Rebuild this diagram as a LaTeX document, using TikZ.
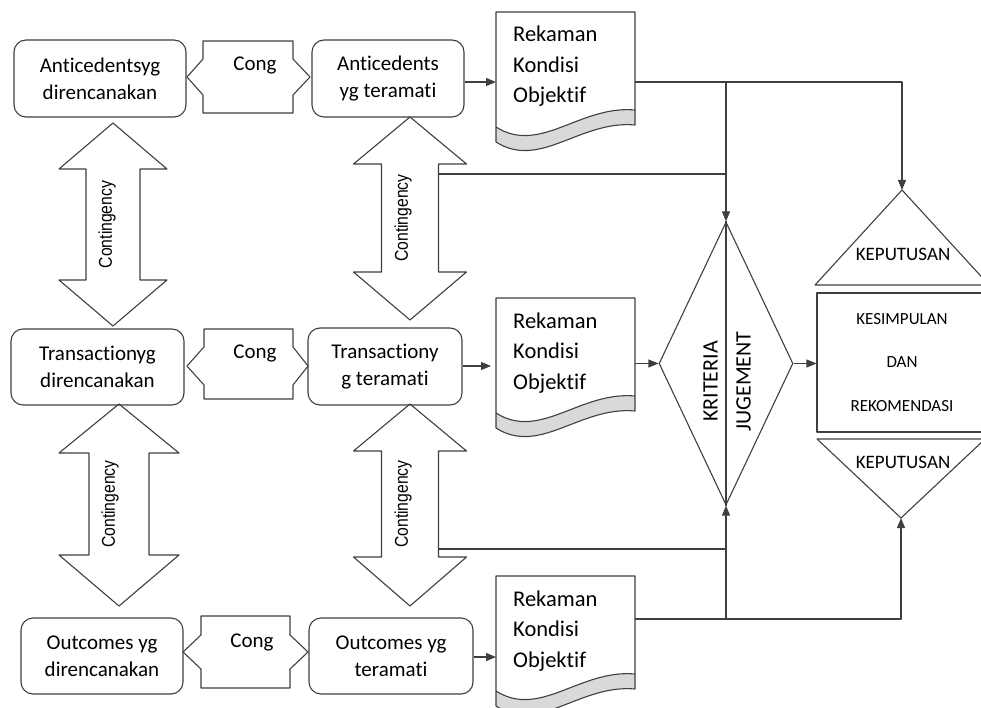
\documentclass[tikz,border=0pt]{standalone}
\usepackage{fontspec}
\setmainfont[Ligatures=NoCommon]{Carlito}
\newfontfamily\contfont[FakeStretch=0.85]{Liberation Sans}
\usetikzlibrary{arrows.meta,shapes.geometric}
\definecolor{linegray}{HTML}{3F3F3F}
\definecolor{bandgray}{HTML}{D9D9D9}
\tikzset{
  line/.style={draw=linegray, line width=1.1pt},
  plan/.style={line, rounded corners=12pt, align=center, inner sep=0pt, font=\fontsize{21}{27}\selectfont},
  cong/.style={font=\fontsize{21}{25}\selectfont},
  cont/.style={rotate=90, inner sep=0pt, font=\contfont\fontsize{18.5}{20}\selectfont},
  record/.style={align=left, inner sep=0pt, font=\fontsize{22.5}{30.5}\selectfont},
  judgetext/.style={rotate=90, inner sep=0pt, font=\fontsize{22}{24}\selectfont},
  decide/.style={inner sep=0pt, font=\fontsize{19}{22}\selectfont}
}
\begin{document}
\begin{tikzpicture}[x=1pt, y=-1pt, line join=round, >={Triangle[length=10pt,width=8pt]}]
\useasboundingbox (0,0) rectangle (981,708);
\clip (0,0) rectangle (981,708);
% rencana dan pengamatan
\node[plan, minimum width=172pt, minimum height=77pt] (antplan) at (100,78.5) {Anticedentsyg\\direncanakan};
\node[plan, minimum width=152pt, minimum height=77pt] (antobs) at (388,78.5) {Anticedents\\yg teramati};
\node[plan, minimum width=173pt, minimum height=76pt] (traplan) at (97.5,367) {Transactionyg\\direncanakan};
\node[plan, minimum width=154pt, minimum height=77pt] (traobs) at (385,366.5) {Transactiony\\g teramati};
\node[plan, minimum width=162pt, minimum height=76pt] (outplan) at (102,656) {Outcomes yg\\direncanakan};
\node[plan, minimum width=164pt, minimum height=76pt] (outobs) at (391,656) {Outcomes yg\\teramati};
% congruence
\foreach \l/\r/\t/\b/\c/\tl/\tr/\h/\n/\tx/\ty in {203/293/41/113/77/187/310/18/1/255/71, 204/293/329/399/366/187/308/19/2/255/358, 201/290/616/688/652/183/308/17/3/252/647}
{
  \draw[line] (\l,\t) -- (\r,\t) -- (\r,\c-\h) -- (\tr,\c) -- (\r,\c+\h) -- (\r,\b) -- (\l,\b) -- (\l,\c+\h) -- (\tl,\c) -- (\l,\c-\h) -- cycle;
  \node[cong, anchor=base] (cong\n) at (\tx,\ty) {Cong};
}
% contingency
\foreach \cx/\ta/\ba/\bb/\tb/\hw/\sw/\tx/\n in {113/123/169/280/326/54/27/107/1, 410/117/164/272/320/56.5/28.5/403/2, 119/404/453/555/606/60/30/110/3, 410/404/451/557/606/56.5/28.5/403/4}
{
  \draw[line] (\cx,\ta) -- (\cx+\hw,\ba) -- (\cx+\sw,\ba) -- (\cx+\sw,\bb) -- (\cx+\hw,\bb) -- (\cx,\tb) -- (\cx-\hw,\bb) -- (\cx-\sw,\bb) -- (\cx-\sw,\ba) -- (\cx-\hw,\ba) -- cycle;
  \node[cont] (cont\n) at (\tx,{(\ba+\bb)/2}) {Contingency};
}
% rekaman
\foreach \t/\n in {12/1, 298/2, 576/3}
{
  \fill[bandgray] (496,\t+115) .. controls (540,\t+143) and (580,\t+93) .. (635,\t+98) -- (635,\t+113) .. controls (580,\t+108) and (540,\t+158) .. (496,\t+130) -- cycle;
  \draw[line] (496,\t) -- (635,\t) -- (635,\t+113) .. controls (580,\t+108) and (540,\t+158) .. (496,\t+130) -- cycle;
  \draw[line] (496,\t+115) .. controls (540,\t+143) and (580,\t+93) .. (635,\t+98);
  \node[record, anchor=base west] (rec\n) at (513,\t+91) {Rekaman\\Kondisi\\Objektif};
}
\coordinate (docin1) at (496,82);
\coordinate (docin2) at (491,366);
\coordinate (docin3) at (496,657);
\coordinate (docout1) at (635,82);
\coordinate (docout2) at (635,363.5);
\coordinate (docout3) at (635,619);
\coordinate (link1) at (439,174);
\coordinate (link2) at (439,549);
% judgement
\node[diamond, line, inner sep=0pt, aspect=0.47, minimum width=134pt, minimum height=283pt] (judge) at (726,363.5) {};
\node[judgetext] (kriteria) at (710.5,381.5) {KRITERIA};
\node[judgetext] (jugement) at (743.5,381.5) {JUGEMENT};
\node[line, inner sep=0pt, minimum width=170pt, minimum height=139pt, align=center, font=\fontsize{17}{43.5}\selectfont] (summary) at (902,362.5) {KESIMPULAN\\DAN\\REKOMENDASI};
\coordinate (apextop) at (902,190);
\coordinate (apexbot) at (901,518);
\draw[line] (815,285) -- (apextop) -- (989,285) -- cycle;
\draw[line] (817,439) -- (apexbot) -- (985,439) -- cycle;
\node[decide] (keptop) at (903,254) {KEPUTUSAN};
\node[decide] (kepbot) at (903,462) {KEPUTUSAN};
% alur
\draw[line, ->] (antobs.east |- docin1) -- (docin1);
\draw[line, ->] (traobs.east |- docin2) -- (docin2);
\draw[line, ->] (outobs.east |- docin3) -- (docin3);
\draw[line, ->] (docout2) -- (judge.west);
\draw[line, ->] (judge.east) -- (judge.east -| summary.west);
\draw[line, ->] (docout1) -| (apextop);
\draw[line, ->] (docout1 -| judge.north) -- (judge.north);
\draw[line] (judge.north) -- (judge.south);
\draw[line, ->] (docout3) -| (apexbot);
\draw[line, ->] (docout3 -| judge.south) -- (judge.south);
\draw[line] (link1) -- (link1 -| judge.north);
\draw[line] (link2) -- (link2 -| judge.south);
\end{tikzpicture}
\end{document}
